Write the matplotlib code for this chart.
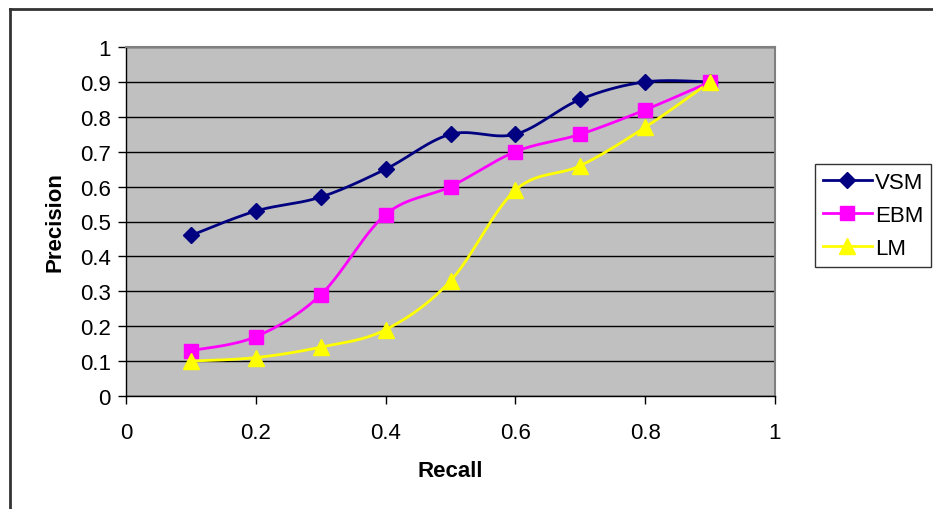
import numpy as np
import matplotlib
matplotlib.use("Agg")
import matplotlib.pyplot as plt
from matplotlib.lines import Line2D

plt.rcParams['font.family'] = ['Liberation Sans', 'DejaVu Sans']

recall = [0.1, 0.2, 0.3, 0.4, 0.5, 0.6, 0.7, 0.8, 0.9]
vsm = [0.46, 0.53, 0.57, 0.65, 0.75, 0.75, 0.85, 0.90, 0.90]
ebm = [0.13, 0.17, 0.29, 0.52, 0.60, 0.70, 0.75, 0.82, 0.90]
lm = [0.10, 0.11, 0.14, 0.19, 0.33, 0.59, 0.66, 0.77, 0.90]


def smooth(x, y, n=30):
    """Excel-like smoothed line (Catmull-Rom through the points)."""
    x = np.asarray(x, float)
    y = np.asarray(y, float)
    px = np.concatenate([[x[0]], x, [x[-1]]])
    py = np.concatenate([[y[0]], y, [y[-1]]])
    xs, ys = [], []
    t = np.linspace(0, 1, n)
    for i in range(1, len(px) - 2):
        p0, p1, p2, p3 = (np.array([px[j], py[j]]) for j in (i - 1, i, i + 1, i + 2))
        c1 = p1 + (p2 - p0) / 6
        c2 = p2 - (p3 - p1) / 6
        b = ((1 - t) ** 3)[:, None] * p1 + (3 * (1 - t) ** 2 * t)[:, None] * c1 \
            + (3 * (1 - t) * t ** 2)[:, None] * c2 + (t ** 3)[:, None] * p2
        xs.extend(b[:, 0])
        ys.extend(b[:, 1])
    return xs, ys


fig = plt.figure(figsize=(9.33, 5.10), dpi=100)
ax = fig.add_axes([126 / 933, 113 / 510, 649 / 933, 349 / 510])
ax.set_facecolor('#c0c0c0')

series = [
    ('VSM', vsm, '#000080', 'D', 8),
    ('EBM', ebm, '#ff00ff', 's', 10),
    ('LM', lm, '#ffff00', '^', 11),
]
handles = []
for name, vals, col, mk, ms in series:
    sx, sy = smooth(recall, vals)
    ax.plot(sx, sy, color=col, lw=2, zorder=3)
    ax.plot(recall, vals, ls='none', marker=mk, ms=ms, color=col, zorder=4)
    handles.append(Line2D([], [], color=col, lw=2, marker=mk, ms=ms, label=name))

ax.set_xlim(0, 1)
ax.set_ylim(0, 1)
ax.set_xticks(np.arange(0, 1.01, 0.2))
ax.set_xticklabels(['0', '0.2', '0.4', '0.6', '0.8', '1'])
ax.set_yticks(np.arange(0, 1.01, 0.1))
ax.set_yticklabels(['0', '0.1', '0.2', '0.3', '0.4', '0.5', '0.6', '0.7', '0.8', '0.9', '1'])
ax.yaxis.grid(True, color='black', lw=1)
ax.set_axisbelow(True)
ax.tick_params(labelsize=16, length=6, width=1, color='black', pad=5)
ax.tick_params(axis='x', pad=13)

for s in ('top', 'right'):
    ax.spines[s].set_color('#808080')
    ax.spines[s].set_linewidth(1.5)
for s in ('left', 'bottom'):
    ax.spines[s].set_color('black')
    ax.spines[s].set_linewidth(1)

ax.set_xlabel('Recall', fontsize=16, fontweight='bold', labelpad=12)
ax.set_ylabel('Precision', fontsize=16, fontweight='bold', labelpad=10)

leg = fig.legend(handles=handles, loc='upper left', bbox_to_anchor=(815 / 933, 1 - 165 / 510),
                 fontsize=16, frameon=True, fancybox=False, handlelength=2.2,
                 borderpad=0.35, labelspacing=0.55, handletextpad=0.15, borderaxespad=0)
leg.get_frame().set_edgecolor('black')
leg.get_frame().set_linewidth(1)

# outer chart border
fig.add_artist(Line2D([10 / 933, 10 / 933], [0, 1 - 10 / 510], color='#333333', lw=2,
                      transform=fig.transFigure))
fig.add_artist(Line2D([10 / 933, 1], [1 - 10 / 510, 1 - 10 / 510], color='#333333', lw=2,
                      transform=fig.transFigure))

fig.savefig('out.png', dpi=100)
